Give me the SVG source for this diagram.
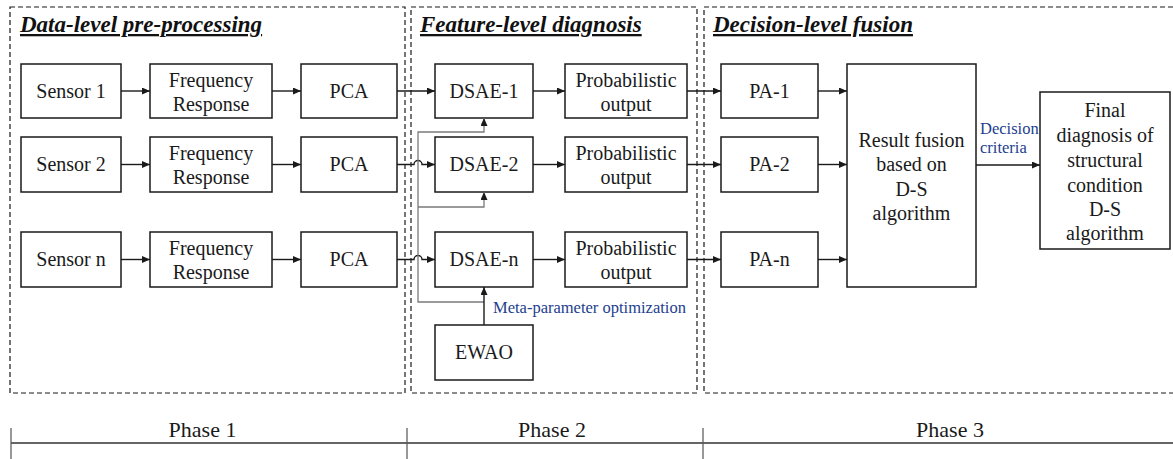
<svg xmlns="http://www.w3.org/2000/svg" width="1173" height="459" viewBox="0 0 1173 459">
  <style>
    .box { fill: #ffffff; stroke: #1a1a1a; stroke-width: 1.5; }
    .lbl { font-family: "Liberation Serif", "Times New Roman", serif; font-size: 20px; fill: #1a1a1a; text-anchor: middle; }
    .title { font-family: "Liberation Serif", "Times New Roman", serif; font-size: 23px; font-weight: bold; font-style: italic; fill: #111; text-decoration: underline; }
    .note { font-family: "Liberation Serif", "Times New Roman", serif; font-size: 16.5px; fill: #23408e; }
    .panel { fill: none; stroke: #1a1a1a; stroke-width: 1.2; stroke-dasharray: 5 3; }
    .wire { fill: none; stroke: #1a1a1a; stroke-width: 1.4; }
    .grey { fill: none; stroke: #7a7a7a; stroke-width: 1.3; }
    .phase { font-family: "Liberation Serif", "Times New Roman", serif; font-size: 22px; fill: #1a1a1a; text-anchor: middle; }
  </style>
  <defs>
    <marker id="arrow" markerUnits="userSpaceOnUse" markerWidth="8" markerHeight="7" refX="8" refY="3.5" orient="auto">
      <path d="M0,0 L8,3.5 L0,7 z" fill="#1a1a1a"/>
    </marker>
  </defs>

  <rect width="1173" height="459" fill="#ffffff"/>

  <!-- dashed phase panels -->
  <g id="panels">
    <rect class="panel" x="10" y="7" width="395" height="386"/>
    <rect class="panel" x="411" y="7" width="286" height="386"/>
    <path class="panel" d="M1173,7 H704 V393 H1173"/>
    <text class="title" x="20" y="32">Data-level pre-processing</text>
    <text class="title" x="420" y="32">Feature-level diagnosis</text>
    <text class="title" x="713" y="32">Decision-level fusion</text>
  </g>

  <!-- Phase 1 nodes -->
  <g id="sensor1"><rect class="box" x="21" y="64" width="100" height="54"/><text class="lbl" x="71" y="98">Sensor 1</text></g>
  <g id="freq1"><rect class="box" x="150" y="64" width="122" height="54"/><text class="lbl" x="211" y="87">Frequency</text><text class="lbl" x="211" y="111">Response</text></g>
  <g id="pca1"><rect class="box" x="301" y="64" width="96" height="54"/><text class="lbl" x="349" y="98">PCA</text></g>

  <g id="sensor2"><rect class="box" x="21" y="137" width="100" height="55"/><text class="lbl" x="71" y="171">Sensor 2</text></g>
  <g id="freq2"><rect class="box" x="150" y="137" width="122" height="55"/><text class="lbl" x="211" y="160">Frequency</text><text class="lbl" x="211" y="184">Response</text></g>
  <g id="pca2"><rect class="box" x="301" y="137" width="96" height="55"/><text class="lbl" x="349" y="171">PCA</text></g>

  <g id="sensorn"><rect class="box" x="21" y="232" width="100" height="55"/><text class="lbl" x="71" y="266">Sensor n</text></g>
  <g id="freqn"><rect class="box" x="150" y="232" width="122" height="55"/><text class="lbl" x="211" y="255">Frequency</text><text class="lbl" x="211" y="279">Response</text></g>
  <g id="pcan"><rect class="box" x="301" y="232" width="96" height="55"/><text class="lbl" x="349" y="266">PCA</text></g>

  <!-- Phase 2 nodes -->
  <g id="dsae1"><rect class="box" x="435" y="64" width="98" height="54"/><text class="lbl" x="484" y="98">DSAE-1</text></g>
  <g id="prob1"><rect class="box" x="565" y="64" width="122" height="54"/><text class="lbl" x="626" y="87">Probabilistic</text><text class="lbl" x="626" y="111">output</text></g>

  <g id="dsae2"><rect class="box" x="435" y="137" width="98" height="55"/><text class="lbl" x="484" y="171">DSAE-2</text></g>
  <g id="prob2"><rect class="box" x="565" y="137" width="122" height="55"/><text class="lbl" x="626" y="160">Probabilistic</text><text class="lbl" x="626" y="184">output</text></g>

  <g id="dsaen"><rect class="box" x="435" y="232" width="98" height="55"/><text class="lbl" x="484" y="266">DSAE-n</text></g>
  <g id="probn"><rect class="box" x="565" y="232" width="122" height="55"/><text class="lbl" x="626" y="255">Probabilistic</text><text class="lbl" x="626" y="279">output</text></g>

  <g id="ewao"><rect class="box" x="435" y="325" width="98" height="55"/><text class="lbl" x="484" y="359">EWAO</text></g>

  <!-- Phase 3 nodes -->
  <g id="pa1"><rect class="box" x="721" y="64" width="97" height="54"/><text class="lbl" x="769.5" y="98">PA-1</text></g>
  <g id="pa2"><rect class="box" x="721" y="137" width="97" height="55"/><text class="lbl" x="769.5" y="171">PA-2</text></g>
  <g id="pan"><rect class="box" x="721" y="232" width="97" height="55"/><text class="lbl" x="769.5" y="266">PA-n</text></g>

  <g id="fusion">
    <rect class="box" x="847" y="64" width="129" height="223"/>
    <text class="lbl" x="911.5" y="147">Result fusion</text>
    <text class="lbl" x="911.5" y="171">based on</text>
    <text class="lbl" x="911.5" y="196">D-S</text>
    <text class="lbl" x="911.5" y="220">algorithm</text>
  </g>

  <g id="final">
    <rect class="box" x="1040" y="92" width="130" height="157"/>
    <text class="lbl" x="1105" y="117">Final</text>
    <text class="lbl" x="1105" y="142">diagnosis of</text>
    <text class="lbl" x="1105" y="167">structural</text>
    <text class="lbl" x="1105" y="192">condition</text>
    <text class="lbl" x="1105" y="216">D-S</text>
    <text class="lbl" x="1105" y="240">algorithm</text>
  </g>

  <!-- connectors -->
  <g id="connectors">
    <!-- sensor -> frequency response -> PCA -->
    <path class="wire" d="M121,91 H150" marker-end="url(#arrow)"/>
    <path class="wire" d="M272,91 H301" marker-end="url(#arrow)"/>
    <path class="wire" d="M121,164.5 H150" marker-end="url(#arrow)"/>
    <path class="wire" d="M272,164.5 H301" marker-end="url(#arrow)"/>
    <path class="wire" d="M121,259.5 H150" marker-end="url(#arrow)"/>
    <path class="wire" d="M272,259.5 H301" marker-end="url(#arrow)"/>

    <!-- PCA -> DSAE (rows 2 and n hop over the optimizer bus) -->
    <path class="wire" d="M397,91 H435" marker-end="url(#arrow)"/>
    <path class="wire" d="M397,164.5 H414 A4,4 0 0 1 422,164.5 H435" marker-end="url(#arrow)"/>
    <path class="wire" d="M397,259.5 H414 A4,4 0 0 1 422,259.5 H435" marker-end="url(#arrow)"/>

    <!-- DSAE -> probabilistic output -> PA -->
    <path class="wire" d="M533,91 H565" marker-end="url(#arrow)"/>
    <path class="wire" d="M533,164.5 H565" marker-end="url(#arrow)"/>
    <path class="wire" d="M533,259.5 H565" marker-end="url(#arrow)"/>
    <path class="wire" d="M687,91 H721" marker-end="url(#arrow)"/>
    <path class="wire" d="M687,164.5 H721" marker-end="url(#arrow)"/>
    <path class="wire" d="M687,259.5 H721" marker-end="url(#arrow)"/>

    <!-- PA -> fusion -> final -->
    <path class="wire" d="M818,91 H847" marker-end="url(#arrow)"/>
    <path class="wire" d="M818,164.5 H847" marker-end="url(#arrow)"/>
    <path class="wire" d="M818,259.5 H847" marker-end="url(#arrow)"/>
    <path class="wire" d="M976,165 H1040" marker-end="url(#arrow)"/>

    <!-- EWAO meta-parameter optimization bus -->
    <path class="grey" d="M484,302 H418 V132 H484 V118" marker-end="url(#arrow)"/>
    <path class="grey" d="M418,207 H484 V192" marker-end="url(#arrow)"/>
    <path class="wire" d="M484,325 V287" marker-end="url(#arrow)"/>

    <text class="note" x="493" y="313">Meta-parameter optimization</text>
    <text class="note" x="980" y="134">Decision</text>
    <text class="note" x="980" y="153">criteria</text>
  </g>

  <!-- phase timeline -->
  <g id="timeline">
    <path d="M11,443 H1173" stroke="#666" stroke-width="2" fill="none"/>
    <path d="M11,428 V459 M407,428 V459 M703,428 V459" stroke="#555" stroke-width="1.2" fill="none"/>
    <text class="phase" x="202.5" y="437">Phase 1</text>
    <text class="phase" x="552" y="437">Phase 2</text>
    <text class="phase" x="950" y="437">Phase 3</text>
  </g>
</svg>
